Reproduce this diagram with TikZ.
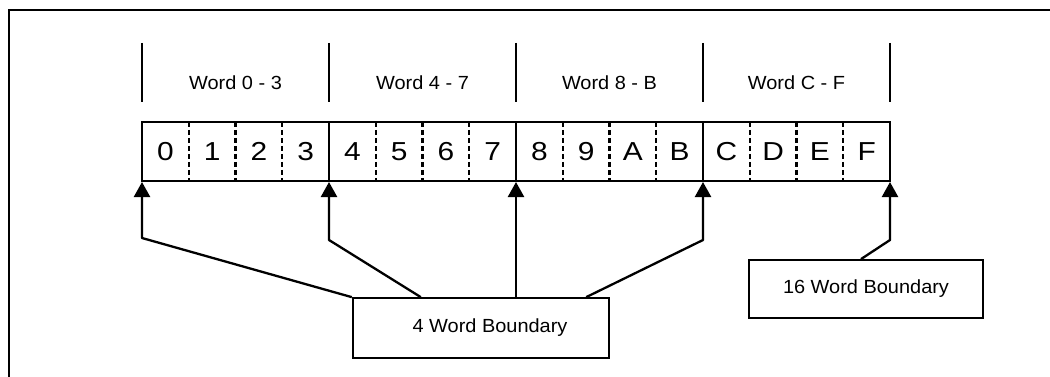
\documentclass[tikz,border=0pt]{standalone}
\usepackage{fontspec}
\setmainfont{Liberation Sans}
\newfontfamily\cellfont[FakeStretch=1.15]{Liberation Sans}
\newfontfamily\labelfont[FakeStretch=1.05]{Liberation Sans}
\usetikzlibrary{arrows.meta}
\tikzset{
  cell/.style={anchor=base, inner sep=0pt, font=\cellfont\fontsize{26}{30}\selectfont},
  word/.style={anchor=base, inner sep=0pt, font=\labelfont\fontsize{19}{22}\selectfont},
  boundary/.style={draw, line width=1.8pt, inner sep=0pt, font=\labelfont\fontsize{19}{22}\selectfont},
  tick/.style={line width=2.6pt},
  pointer/.style={line width=2.3pt, line join=round, -{Triangle[width=16pt,length=15pt]}},
}
\begin{document}
\begin{tikzpicture}[x=1pt,y=-1pt]
      \useasboundingbox (0,0) rectangle (1050,377);
      \draw[line width=2.6pt] (9,377) -- (9,10) -- (1050,10);
      % word groups
      \draw[tick] (142,43) -- (142,102);
      \draw[tick] (329,43) -- (329,102);
      \draw[tick] (516,43) -- (516,102);
      \draw[tick] (703,43) -- (703,102);
      \draw[tick] (890,43) -- (890,102);
      \path
        (235.5,89.5) node[word] (w0) {Word 0 - 3}
        (422.5,89.5) node[word] (w1) {Word 4 - 7}
        (609.5,89.5) node[word] (w2) {Word 8 - B}
        (796.5,89.5) node[word] (w3) {Word C - F};
      % the sixteen words
      \draw[line width=2.5pt] (142,122) rectangle (890,181);
      \draw[line width=2.5pt] (329,122) -- (329,181);
      \draw[line width=2.5pt] (516,122) -- (516,181);
      \draw[line width=2.5pt] (703,122) -- (703,181);
      \begin{scope}[line width=2.2pt, dash pattern=on 5pt off 3pt]
        \draw (188.75,122) -- (188.75,181);
        \draw (235.5,122) -- (235.5,181);
        \draw (282.25,122) -- (282.25,181);
        \draw (375.75,122) -- (375.75,181);
        \draw (422.5,122) -- (422.5,181);
        \draw (469.25,122) -- (469.25,181);
        \draw (562.75,122) -- (562.75,181);
        \draw (609.5,122) -- (609.5,181);
        \draw (656.25,122) -- (656.25,181);
        \draw (749.75,122) -- (749.75,181);
        \draw (796.5,122) -- (796.5,181);
        \draw (843.25,122) -- (843.25,181);
      \end{scope}
      \path
        (165.375,160.5) node[cell] (c0) {0}
        (212.125,160.5) node[cell] (c1) {1}
        (258.875,160.5) node[cell] (c2) {2}
        (305.625,160.5) node[cell] (c3) {3}
        (352.375,160.5) node[cell] (c4) {4}
        (399.125,160.5) node[cell] (c5) {5}
        (445.875,160.5) node[cell] (c6) {6}
        (492.625,160.5) node[cell] (c7) {7}
        (539.375,160.5) node[cell] (c8) {8}
        (586.125,160.5) node[cell] (c9) {9}
        (632.875,160.5) node[cell] (cA) {A}
        (679.625,160.5) node[cell] (cB) {B}
        (726.375,160.5) node[cell] (cC) {C}
        (773.125,160.5) node[cell] (cD) {D}
        (819.875,160.5) node[cell] (cE) {E}
        (866.625,160.5) node[cell] (cF) {F};
      % boundaries
      \coordinate (b0) at (142,182);
      \coordinate (b1) at (329,182);
      \coordinate (b2) at (516,182);
      \coordinate (b3) at (703,182);
      \coordinate (b4) at (890,182);
      \coordinate (k0) at (142,238);
      \coordinate (k1) at (329,240);
      \coordinate (k3) at (703,240);
      \coordinate (k4) at (890,240);
      \node[boundary, minimum width=256.6pt, minimum height=59.7pt] (four) at (481,327.9) {\hspace*{18pt}4 Word Boundary};
      \node[boundary, minimum width=234pt, minimum height=58pt] (sixteen) at (866,289) {16 Word Boundary};
      \begin{scope}[pointer]
        \draw (four.north west) -- (k0) -- (b0);
        \draw ([xshift=69pt]four.north west) -- (k1) -- (b1);
        \draw (four.north -| b2) -- (b2);
        \draw ([xshift=-24pt]four.north east) -- (k3) -- (b3);
        \draw ([xshift=-5pt]sixteen.north) -- (k4) -- (b4);
      \end{scope}
    \end{tikzpicture}
\end{document}
